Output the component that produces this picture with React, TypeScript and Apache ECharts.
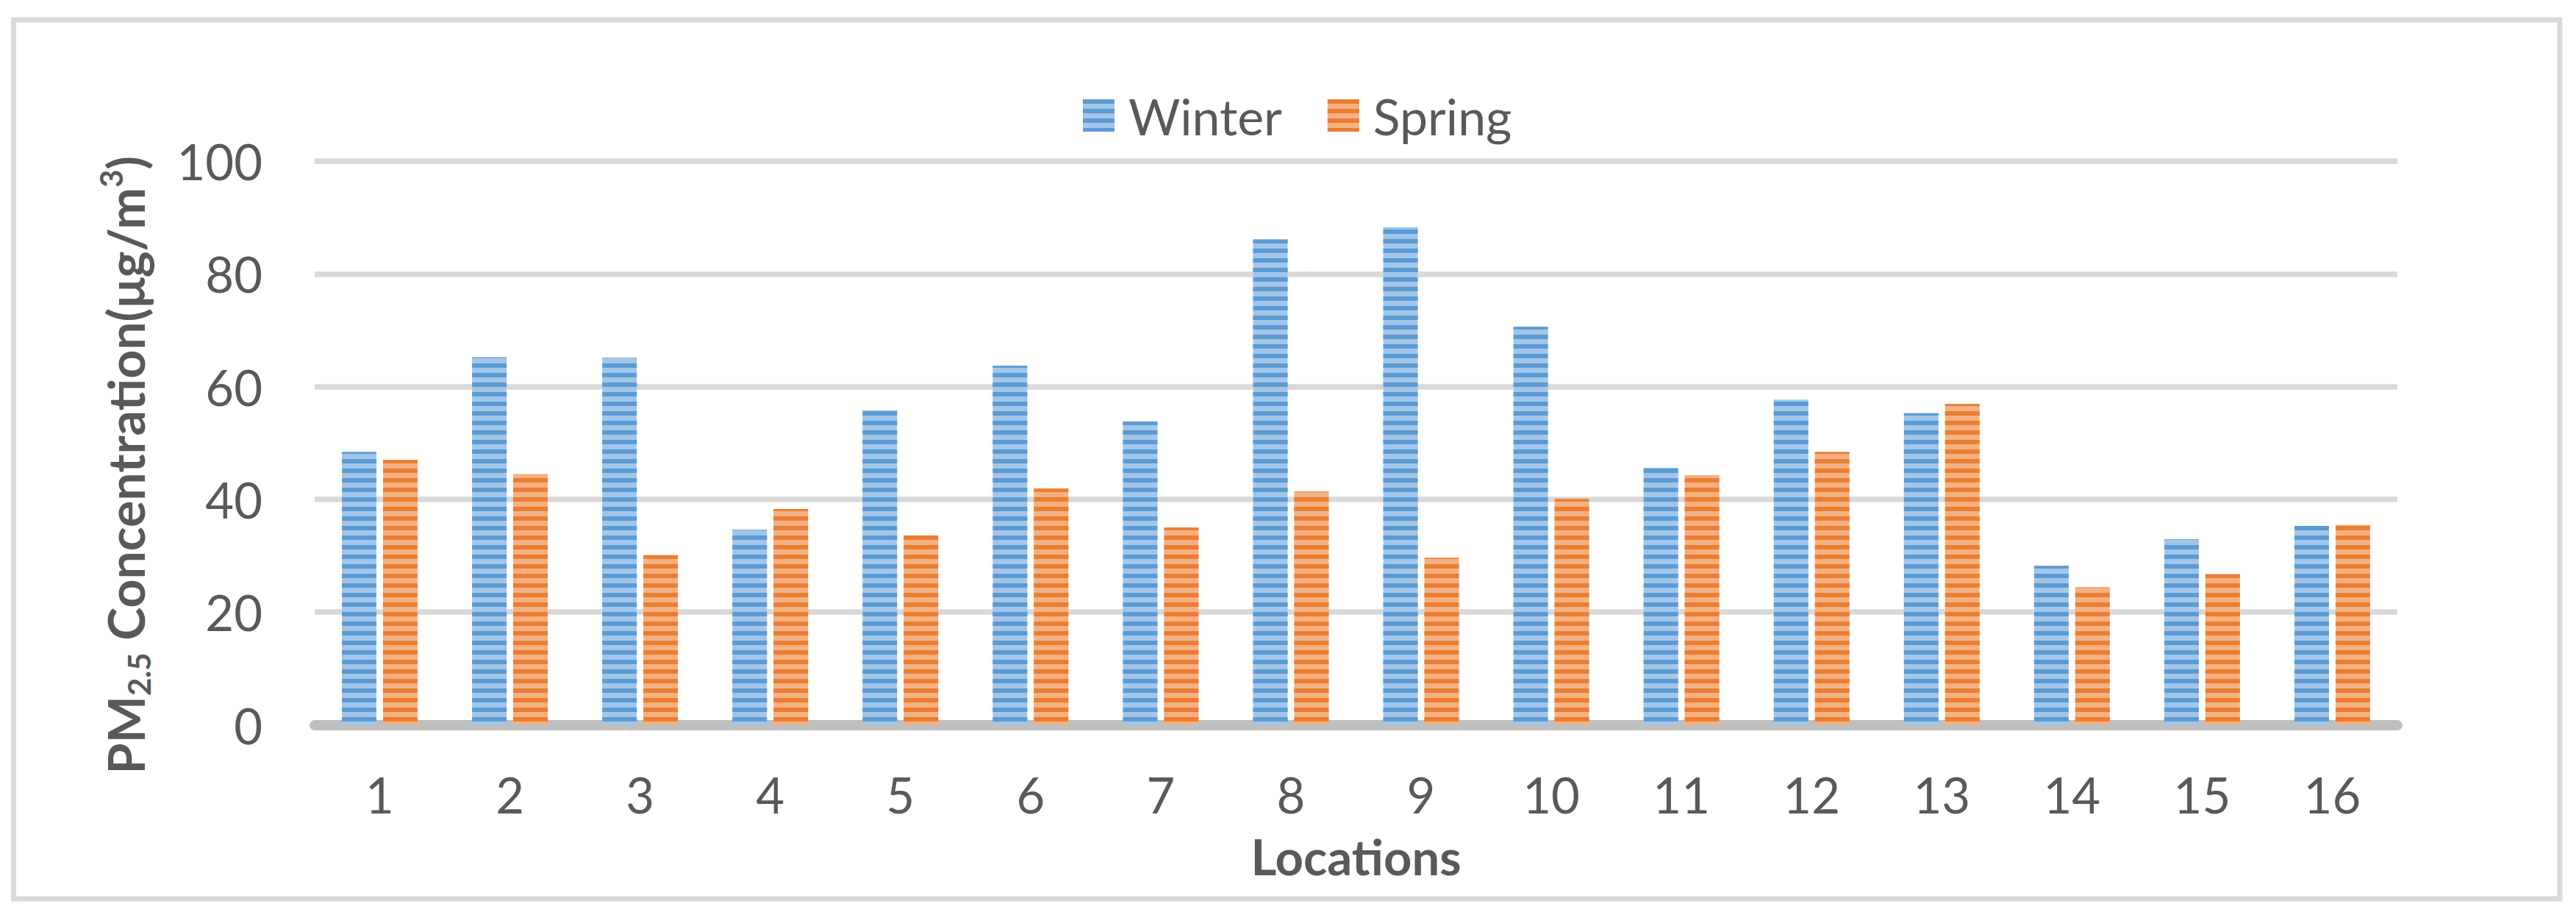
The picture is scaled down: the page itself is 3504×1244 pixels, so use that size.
import React, { useEffect, useRef } from "react";
import * as echarts from "echarts";

const categories = ["1", "2", "3", "4", "5", "6", "7", "8", "9", "10", "11", "12", "13", "14", "15", "16"];
const winterValues = [48.4, 65.2, 65.1, 34.6, 55.8, 63.7, 53.8, 86.1, 88.3, 70.6, 45.6, 57.7, 55.3, 28.2, 32.9, 35.3];
const springValues = [47.0, 44.5, 30.1, 38.3, 33.6, 41.9, 35.0, 41.4, 29.6, 40.1, 44.3, 48.4, 56.9, 24.4, 26.7, 35.5];
const seriesNames = ["Winter", "Spring"];
const yTicks = { min: 0, max: 100, interval: 20 };

const FONT = "Lato, 'Open Sans', sans-serif";
const TEXT = "#595959";

export default function App() {
  const ref = useRef<HTMLDivElement>(null);
  useEffect(() => {
    if (!ref.current) return;
    const chart = echarts.init(ref.current, null, { renderer: "svg" });
    const stripe = (dark: string) => ({
      symbol: "rect",
      symbolSize: 1,
      dashArrayX: [100, 0],
      dashArrayY: [6, 6.5],
      rotation: 0,
      color: dark,
    });
    chart.setOption({
      animation: false,
      backgroundColor: "#ffffff",
      aria: { enabled: true, decal: { show: true } },
      textStyle: { fontFamily: FONT },
      graphic: [
        {
          type: "rect",
          shape: { x: 18.5, y: 27, width: 3463.5, height: 1195 },
          style: { fill: "none", stroke: "#d9d9d9", lineWidth: 7 },
          silent: true,
        },
      ],
      legend: {
        data: seriesNames,
        left: 1473,
        top: 123,
        icon: "rect",
        itemWidth: 43,
        itemHeight: 44,
        itemGap: 62,
        padding: 0,
        textStyle: { fontFamily: FONT, fontSize: 68, lineHeight: 44, color: TEXT, padding: [0, 0, 0, 14] },
      },
      grid: {
        left: 428,
        right: 243,
        top: 219,
        bottom: 258.5,
        containLabel: false,
        outerBoundsMode: "none",
      },
      xAxis: {
        type: "category",
        data: categories,
        name: "Locations",
        nameLocation: "middle",
        nameGap: 145,
        nameTextStyle: { fontFamily: FONT, fontSize: 67, fontWeight: "bold", color: TEXT },
        axisLine: { show: true, lineStyle: { color: "#bfbfbf", width: 14 } },
        axisTick: { show: false },
        axisLabel: { margin: 61, fontFamily: FONT, fontSize: 67, color: TEXT },
        splitLine: { show: false },
      },
      yAxis: {
        type: "value",
        min: yTicks.min,
        max: yTicks.max,
        interval: yTicks.interval,
        name: "{b|PM}{s|2.5}{b| Concentration(μg/m}{p|3}{b|)}",
        nameLocation: "middle",
        nameGap: 218,
        nameTextStyle: {
          fontFamily: FONT,
          color: TEXT,
          padding: [0, 60, 0, 0],
          rich: {
            b: { fontFamily: FONT, fontSize: 68, fontWeight: "bold", color: TEXT, lineHeight: 80, verticalAlign: "middle" },
            s: { fontFamily: FONT, fontSize: 42, fontWeight: "bold", color: TEXT, lineHeight: 42, verticalAlign: "bottom" },
            p: { fontFamily: FONT, fontSize: 42, fontWeight: "bold", color: TEXT, lineHeight: 42, verticalAlign: "top" },
          },
        },
        axisLine: { show: false },
        axisTick: { show: false },
        axisLabel: { margin: 71, fontFamily: FONT, fontSize: 67, color: TEXT },
        splitLine: { show: true, lineStyle: { color: "#d9d9d9", width: 7.5 } },
      },
      series: [
        {
          name: seriesNames[0],
          type: "bar",
          data: winterValues,
          barWidth: 47,
          barGap: "19%",
          itemStyle: { color: "#a3c6e8", decal: stripe("#5b9bd5") },
        },
        {
          name: seriesNames[1],
          type: "bar",
          data: springValues,
          barWidth: 47,
          barGap: "19%",
          itemStyle: { color: "#f4b183", decal: stripe("#ed7d31") },
        },
      ],
    });
    return () => chart.dispose();
  }, []);
  return (
    <div
      ref={ref}
      style={{ position: "fixed", left: 0, top: 0, width: 3504, height: 1244, background: "#fff" }}
    />
  );
}
